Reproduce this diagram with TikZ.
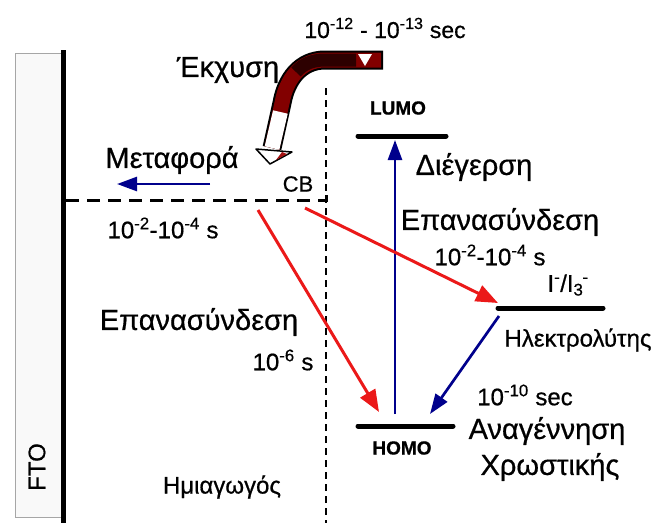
\documentclass[tikz,border=0pt]{standalone}
\usepackage{fontspec}
\setmainfont{Liberation Sans}[FakeBold=0.6]
\usetikzlibrary{arrows.meta}
\definecolor{navy}{RGB}{0,0,140}
\definecolor{rred}{RGB}{235,25,25}
\definecolor{dred}{RGB}{130,0,0}
\definecolor{ddred}{RGB}{45,0,0}
\begin{document}
\begin{tikzpicture}[x=1pt,y=-1pt,
 lbl/.style={font=\fontsize{29}{29}\selectfont, inner sep=0pt},
 sm/.style={font=\fontsize{24}{24}\selectfont, inner sep=0pt},
 orb/.style={font=\bfseries\fontsize{19}{19}\selectfont, inner sep=0pt},
 lvl/.style={line width=5pt, line cap=round},
 redarr/.style={draw=rred, line width=3pt, -{Triangle[length=22pt,width=17pt]}},
 bluearr/.style={draw=navy, line width=2.7pt, -{Triangle[length=20pt,width=14pt]}}]
\useasboundingbox (0,0) rectangle (657,523);
% FTO
\path[draw=gray!70, fill=gray!5, line width=1pt] (15,53) rectangle (62,517);
\draw[line width=5pt] (63,50) -- (63,523);
\node[sm, rotate=90] (fto) at (37,467) {FTO};
% dashed lines
\coordinate (cbL) at (66,200);
\coordinate (cbR) at (326,200);
\coordinate (vT) at (326,88);
\coordinate (vB) at (326,523);
\draw[line width=1.5pt, dash pattern=on 7pt off 5pt] (vT) -- (vB);
\draw[line width=3pt, dash pattern=on 13pt off 8pt] (cbL) -- (cbR) -- ++(0,-6);
% injection arrow
\coordinate (iA) at (383,60);
\coordinate (iB) at (325,60);
\coordinate (iC) at (282,103);
\coordinate (iD) at (272,148);
\draw[line width=19pt, black] (iA) -- (iB) .. controls (300,60) and (286,80) .. (iC) -- (iD);
\draw[line width=15pt, dred] ([xshift=-2pt]iA) -- (iB) .. controls (300,60) and (286,80) .. (iC) -- (iD);
\draw[line width=13pt, ddred] (356,60) -- (iB) .. controls (312,60) and (303,64) .. (296,72);
\draw[line width=15pt, white] (280.4,112) -- (iD);
\path[draw=black, fill=white, line width=1.5pt, line join=round] (256,149) -- (292,152) -- (270,164) -- cycle;
\path[fill=rred!70!black] (276,160) -- (287,154) -- (282,152) -- cycle;
\path[fill=white] (358,54) -- (372,54) -- (365,66) -- cycle;
\node[lbl] (ekx) at (228,70) {Έκχυση};
\node[sm, font=\fontsize{23}{23}\selectfont] (t1213) at (385,28) {10\textsuperscript{-12} - 10\textsuperscript{-13} sec};
% left side
\node[lbl] (metaf) at (172,160) {Μεταφορά};
\coordinate (mS) at (210,184);
\coordinate (mE) at (117,184);
\draw[bluearr] (mS) -- (mE);
\node[sm, font=\fontsize{22}{22}\selectfont] (cb) at (298,184) {CB};
\node[sm] (t24a) at (163,228) {10\textsuperscript{-2}-10\textsuperscript{-4} s};
\node[lbl] (rec1) at (199,322) {Επανασύνδεση};
\node[sm] (t6) at (283,360) {10\textsuperscript{-6} s};
\node[sm] (semi) at (222,487) {Ημιαγωγός};
% levels
\coordinate (luL) at (358,136); \coordinate (luR) at (446,136);
\coordinate (hoL) at (358,426); \coordinate (hoR) at (453,426);
\coordinate (elL) at (498,308); \coordinate (elR) at (603,308);
\draw[lvl] (luL) -- (luR);
\draw[lvl] (hoL) -- (hoR);
\draw[lvl] (elL) -- (elR);
\node[orb] (lumo) at (398,108) {LUMO};
\node[orb] (homo) at (402,448) {HOMO};
\node[sm] (redox) at (568,285) {I\textsuperscript{-}/I\textsubscript{3}\kern-1pt\textsuperscript{-}};
\node[sm] (elec) at (578,340) {Ηλεκτρολύτης};
% right labels
\node[lbl] (exc) at (474,167) {Διέγερση};
\node[lbl] (rec2) at (500,222) {Επανασύνδεση};
\node[sm] (t24b) at (490,255) {10\textsuperscript{-2}-10\textsuperscript{-4} s};
\node[sm] (t10) at (525,395) {10\textsuperscript{-10} sec};
\node[lbl] (reg1) at (547,431) {Αναγέννηση};
\node[lbl] (reg2) at (550,467) {Χρωστικής};
% arrows
\coordinate (eS) at (395,414); \coordinate (eE) at (395,140);
\draw[bluearr] (eS) -- (eE);
\coordinate (dS) at (499,316); \coordinate (dE) at (430,414);
\draw[bluearr] (dS) -- (dE);
\coordinate (r1S) at (258,210); \coordinate (r1E) at (379,412);
\draw[redarr] (r1S) -- (r1E);
\coordinate (r2S) at (305,208); \coordinate (r2E) at (498,303);
\draw[redarr] (r2S) -- (r2E);
\end{tikzpicture}
\end{document}
